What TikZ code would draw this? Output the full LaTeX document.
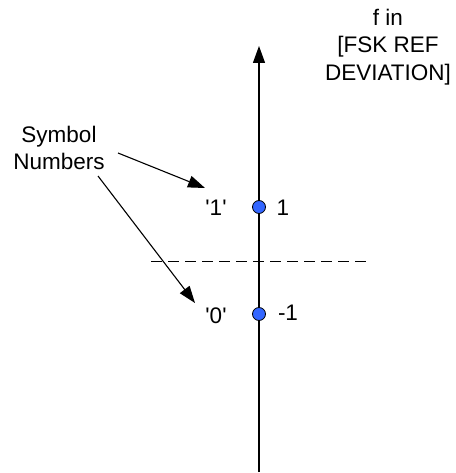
\documentclass[tikz,border=0pt]{standalone}
\usepackage{fontspec}
\setmainfont{Liberation Sans}
\newfontfamily\labfont{Liberation Sans}
\usetikzlibrary{arrows.meta}
\begin{document}
\begin{tikzpicture}[x=1pt,y=-1pt,
  lbl/.style={font=\labfont\fontsize{22.5}{27.5}\selectfont, inner sep=0pt, align=center},
  axisline/.style={line width=1.2pt, -{Triangle[length=17pt,width=12pt]}},
  pointer/.style={line width=1.1pt, -{Triangle[length=17pt,width=12pt]}},
  dot/.style={circle, draw=black, line width=0.8pt, fill={rgb,255:red,51;green,102;blue,255}, minimum size=13pt, inner sep=0pt},
  divider/.style={line width=1pt, dash pattern=on 11pt off 6pt}]
\useasboundingbox (0,0) rectangle (455,473);
\coordinate (abot) at (259,472);
\coordinate (atop) at (259,46);
\draw[axisline] (abot) -- (atop);
\coordinate (dl) at (151,261);
\coordinate (dr) at (367,261);
\draw[divider] (dl) -- (dr);
\node[dot] (d1) at (259,207) {};
\node[dot] (d0) at (259,314) {};
\node[lbl] (ftitle) at (388,47) {f in\\{}[FSK REF\\{}DEVIATION]};
\node[lbl] (sym) at (59,148) {Symbol\\Numbers};
\node[lbl] (q1) at (216,208) {\char"27 1\char"27};
\node[lbl] (q0) at (216,316) {\char"27 0\char"27};
\node[lbl] (v1) at (283,208) {1};
\node[lbl] (v0) at (288,313) {-1};
\coordinate (s1) at (118,153);
\coordinate (e1) at (205,188);
\coordinate (s2) at (98,176);
\coordinate (e2) at (195,303);
\draw[pointer] (s1) -- (e1);
\draw[pointer] (s2) -- (e2);
\end{tikzpicture}
\end{document}
